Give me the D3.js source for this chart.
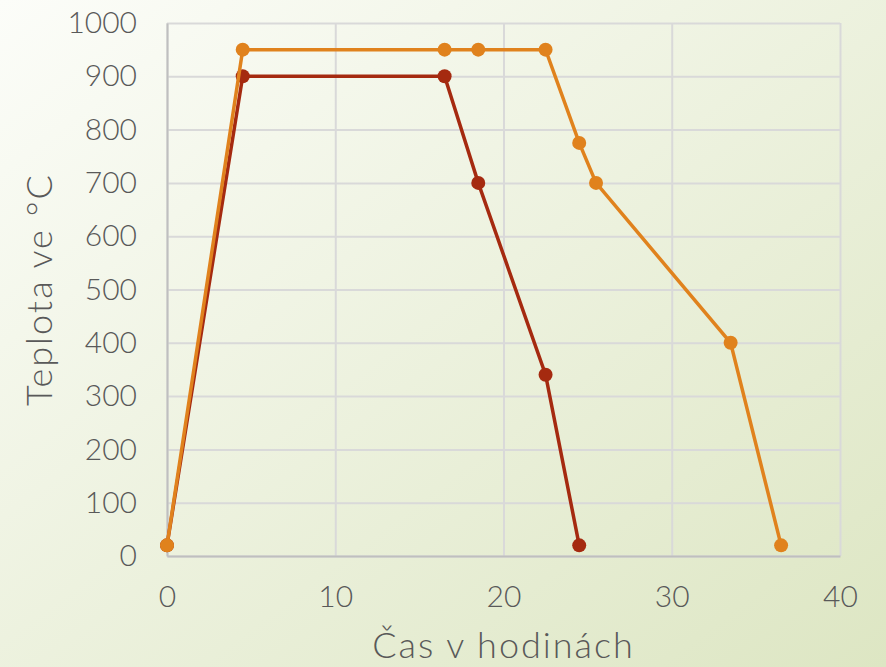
<!DOCTYPE html>
<html>
<head>
<meta charset="utf-8">
<script src="https://cdn.jsdelivr.net/npm/d3@7"></script>
<style>
  body { margin: 0; padding: 0; }
  svg { display: block; }
</style>
</head>
<body>
<script>
var w = 886;
var h = 667;

// data
var redX = [0, 4.5, 16.5, 18.5, 22.5, 24.5];
var redY = [20, 900, 900, 700, 340, 20];
var orangeX = [0, 4.5, 16.5, 18.5, 22.5, 24.5, 25.5, 33.5, 36.5];
var orangeY = [20, 950, 950, 950, 950, 775, 700, 400, 20];
var xTicks = [0, 10, 20, 30, 40];
var yTicks = [0, 100, 200, 300, 400, 500, 600, 700, 800, 900, 1000];
var xTitle = "Čas v hodinách";
var yTitle = "Teplota ve °C";

var plotLeft = 167, plotRight = 840, plotTop = 23, plotBottom = 556;
var font = "Lato, 'Open Sans', sans-serif";

var xScale = d3.scaleLinear().domain([0, 40]).range([plotLeft, plotRight]);
var yScale = d3.scaleLinear().domain([0, 1000]).range([plotBottom, plotTop]);

var svg = d3.select("body")
            .append("svg")
            .attr("width", w)
            .attr("height", h);

// background gradient
var grad = svg.append("defs").append("linearGradient")
    .attr("id", "bg")
    .attr("x1", "0%").attr("y1", "0%")
    .attr("x2", "100%").attr("y2", "100%");
grad.append("stop").attr("offset", "0%").attr("stop-color", "#fcfdf9");
grad.append("stop").attr("offset", "100%").attr("stop-color", "#dde6c3");

svg.append("rect")
   .attr("width", w).attr("height", h)
   .attr("fill", "url(#bg)");

// gridlines
svg.append("g")
   .attr("transform", "translate(0," + plotBottom + ")")
   .call(d3.axisBottom(xScale).tickValues(xTicks).tickSize(-(plotBottom - plotTop)).tickFormat(""))
   .call(function(g) {
       g.select(".domain").remove();
       g.selectAll("line").attr("stroke", "#d9d9d9").attr("stroke-width", 2);
   });

svg.append("g")
   .attr("transform", "translate(" + plotLeft + ",0)")
   .call(d3.axisLeft(yScale).tickValues(yTicks).tickSize(-(plotRight - plotLeft)).tickFormat(""))
   .call(function(g) {
       g.select(".domain").remove();
       g.selectAll("line").attr("stroke", "#d9d9d9").attr("stroke-width", 2);
   });

// axis lines + labels
var xAxis = svg.append("g")
   .attr("transform", "translate(0," + plotBottom + ")")
   .call(d3.axisBottom(xScale).tickValues(xTicks).tickSize(0).tickPadding(30).tickFormat(d3.format("d")));
xAxis.select(".domain").attr("stroke", "#bfbfbf").attr("stroke-width", 2);
xAxis.selectAll("text")
   .attr("fill", "#595959")
   .style("font-family", font)
   .style("font-weight", 300)
   .style("font-size", "30px");

var yAxis = svg.append("g")
   .attr("transform", "translate(" + plotLeft + ",0)")
   .call(d3.axisLeft(yScale).tickValues(yTicks).tickSize(0).tickPadding(30).tickFormat(d3.format("d")));
yAxis.select(".domain").attr("stroke", "#bfbfbf").attr("stroke-width", 2);
yAxis.selectAll("text")
   .attr("fill", "#595959")
   .style("font-family", font)
   .style("font-weight", 300)
   .style("font-size", "30px");

// titles
svg.append("text")
   .attr("x", (plotLeft + plotRight) / 2)
   .attr("y", 658)
   .attr("text-anchor", "middle")
   .attr("fill", "#595959")
   .style("font-family", font)
   .style("font-weight", 300)
   .style("font-size", "36px")
   .style("letter-spacing", "2px")
   .text(xTitle);

svg.append("text")
   .attr("transform", "translate(52," + (plotTop + plotBottom) / 2 + ") rotate(-90)")
   .attr("text-anchor", "middle")
   .attr("fill", "#595959")
   .style("font-family", font)
   .style("font-weight", 300)
   .style("font-size", "36px")
   .style("letter-spacing", "2px")
   .text(yTitle);

// series
var line = d3.line()
    .x(function(d) { return xScale(d[0]); })
    .y(function(d) { return yScale(d[1]); });

function drawSeries(xs, ys, color) {
    var pts = xs.map(function(x, i) { return [x, ys[i]]; });
    svg.append("path")
       .datum(pts)
       .attr("d", line)
       .attr("fill", "none")
       .attr("stroke", color)
       .attr("stroke-width", 3.5);
    svg.append("g").selectAll("circle")
       .data(pts)
       .enter()
       .append("circle")
       .attr("cx", function(d) { return xScale(d[0]); })
       .attr("cy", function(d) { return yScale(d[1]); })
       .attr("r", 7)
       .attr("fill", color);
}

drawSeries(redX, redY, "#a52a10");
drawSeries(orangeX, orangeY, "#e0821d");
</script>
</body>
</html>
